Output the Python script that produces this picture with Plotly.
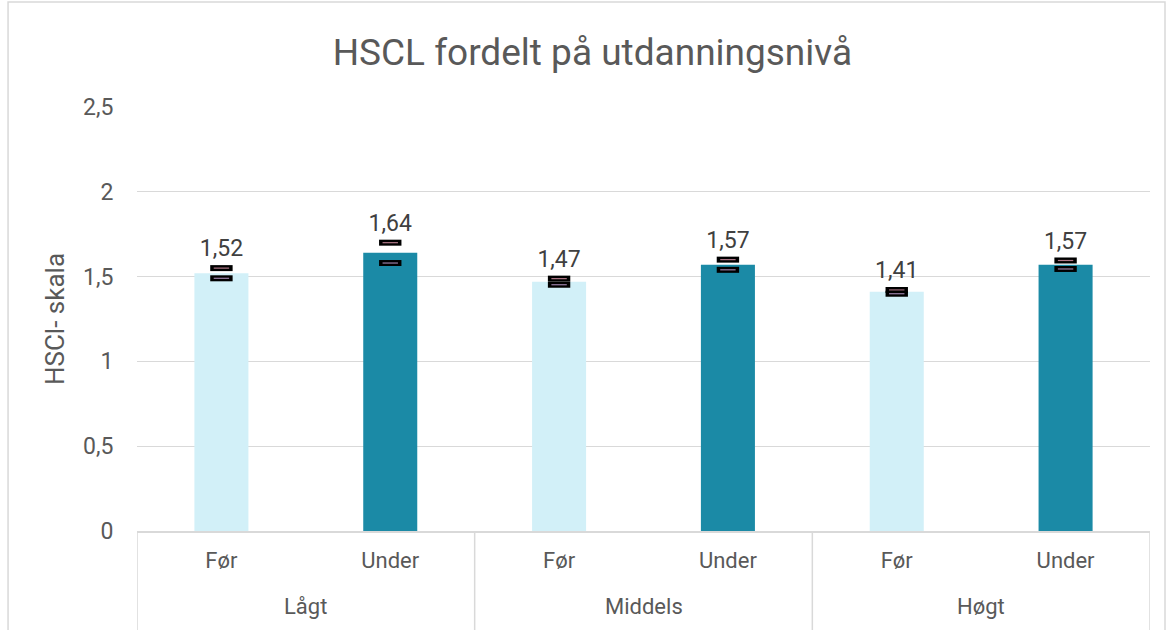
import plotly.graph_objects as go

groups = ["Lågt", "Middels", "Høgt"]
periods = ["Før", "Under", "Før", "Under", "Før", "Under"]
values = [1.52, 1.64, 1.47, 1.57, 1.41, 1.57]
err = [0.03, 0.06, 0.018, 0.03, 0.011, 0.025]
y_ticks = [0, 0.5, 1, 1.5, 2, 2.5]
y_ticktext = ["0", "0,5", "1", "1,5", "2", "2,5"]

light = "#D2F0F8"
dark = "#1B8AA6"
grid = "#d9d9d9"
txt = "#595959"

colors = [light if p == "Før" else dark for p in periods]
xpos = list(range(len(values)))
upper = [v + e for v, e in zip(values, err)]
lower = [v - e for v, e in zip(values, err)]

fig = go.Figure()

# --- bars ---
fig.add_trace(go.Bar(x=xpos, y=values, marker=dict(color=colors, line=dict(width=0)),
                     width=0.32, showlegend=False, hoverinfo="skip"))

# --- error caps (no stem, like the original) ---
for yy, inner in ((upper, "#b07888"), (lower, "#9a80a8")):
    fig.add_trace(go.Scatter(x=xpos, y=yy, mode="markers", showlegend=False, hoverinfo="skip",
                             marker=dict(symbol="line-ew-open", size=16, color="black",
                                         line=dict(width=6, color="black"))))
    fig.add_trace(go.Scatter(x=xpos, y=yy, mode="markers", showlegend=False, hoverinfo="skip",
                             marker=dict(symbol="line-ew-open", size=11, color=inner,
                                         line=dict(width=1.2, color=inner))))

# --- value labels ---
fig.add_trace(go.Scatter(x=xpos, y=upper, mode="markers+text", customdata=values,
                         texttemplate="%{customdata:.2f}", textposition="top center",
                         marker=dict(size=8, opacity=0),
                         textfont=dict(size=23, color="#404040", family="Roboto"),
                         showlegend=False, hoverinfo="skip"))

fig.update_layout(
    width=1173, height=630,
    margin=dict(l=137, r=23, t=107, b=99),
    paper_bgcolor="white", plot_bgcolor="white",
    separators=", ",
    font=dict(family="Roboto", color=txt),
    title=dict(text="HSCL fordelt på utdanningsnivå", x=0.505, xanchor="center",
               y=0.917, yanchor="middle", font=dict(size=37, color=txt)),
)
fig.update_yaxes(range=[0, 2.5], tickvals=y_ticks, ticktext=y_ticktext,
                 showgrid=True, gridcolor=grid, gridwidth=1.3, zeroline=False,
                 tickfont=dict(size=23, color=txt), ticks="outside", ticklen=18,
                 tickcolor="rgba(0,0,0,0)",
                 title=dict(text="HSCl- skala", font=dict(size=26, color=txt), standoff=10))
fig.update_xaxes(range=[-0.5, 5.5], tickvals=xpos, ticktext=periods, showgrid=False,
                 showline=True, linecolor=grid, linewidth=1.5,
                 ticks="outside", ticklen=9, tickcolor="rgba(0,0,0,0)",
                 tickfont=dict(size=22, color=txt))

# --- group labels and dividers under the axis ---
for i, g in enumerate(groups):
    fig.add_annotation(x=2 * i + 0.5, y=-0.177, xref="x", yref="paper", text=g,
                       showarrow=False, font=dict(size=22, color=txt), yanchor="middle")
for xd in [-0.5, 1.5, 3.5, 5.5]:
    fig.add_shape(type="line", xref="x", yref="paper", x0=xd, x1=xd, y0=0, y1=-0.25,
                  line=dict(color=grid, width=1.5))

# chart border
fig.add_shape(type="rect", xref="paper", yref="paper", x0=-0.1273, x1=1.0148, y0=-0.25, y1=1.2476,
              line=dict(color=grid, width=1.5), fillcolor="rgba(0,0,0,0)", layer="below")

fig.write_html("out.html", config={"displayModeBar": False},
               post_script="document.body.style.margin='0';")
